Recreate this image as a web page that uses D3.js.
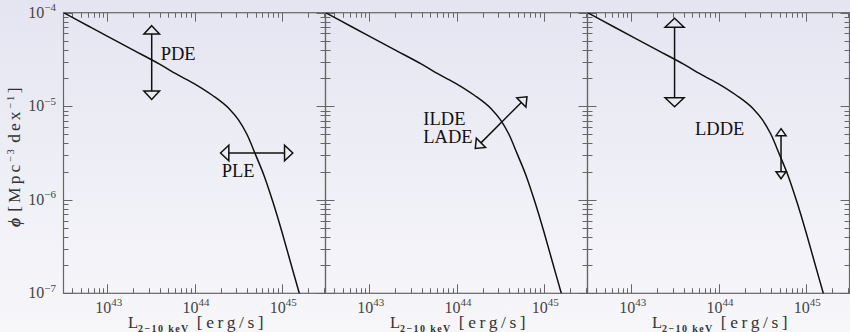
<!DOCTYPE html>
<html><head><meta charset="utf-8">
<script src="https://cdn.jsdelivr.net/npm/d3@7"></script>
<style>body{margin:0;background:#fff}svg{display:block}</style>
</head><body>
<svg id="c" width="850" height="332"></svg>
<script>
// ---------- data ----------
const logL   = [42.5, 42.8, 43.0, 43.3, 43.6, 43.8, 44.0, 44.2, 44.4, 44.5, 44.6, 44.7, 44.8, 44.9, 45.0, 45.1, 45.2, 45.3];
const logPhi = [-4.00, -4.15, -4.25, -4.40, -4.55, -4.66, -4.76, -4.88, -5.03, -5.14, -5.30, -5.52, -5.75, -6.03, -6.34, -6.67, -7.00, -7.33];
const xDomainLog = [42.5, 45.5];
const yDomainLog = [-7, -4];
const xTickExps = [43, 44, 45];
const yTickExps = [-4, -5, -6, -7];
const panelNames = ["PLE_PDE", "ILDE_LADE", "LDDE"];
// arrows (log L, log phi end points)
const arrowPanel = [0, 0, 1, 2, 2];
const arrowX1 = [43.51, 44.298, 44.215, 43.497, 44.716];
const arrowY1 = [-4.139, -5.50, -5.452, -4.06, -5.24];
const arrowX2 = [43.51, 45.126, 44.807, 43.497, 44.716];
const arrowY2 = [-4.927, -5.50, -4.899, -5.006, -5.775];
const arrowKind = ["big", "big", "mid", "huge", "small"];
// labels (log L, log phi of baseline-left)
const labelPanel = [0, 0, 1, 1, 2];
const labelX = [43.613, 44.311, 43.62, 43.62, 43.731];
const labelY = [-4.506, -5.753, -5.201, -5.396, -5.308];
const labelText = ["PDE", "PLE", "ILDE", "LADE", "LDDE"];

// ---------- layout ----------
const W = 850, H = 332;
const yTop = 12.7, yBot = 293.3, pw = 262;
const lefts = [63.5, 325.5, 587.5];
const svg = d3.select("#c");
const defs = svg.append("defs");
const gr = defs.append("linearGradient").attr("id", "bg").attr("x1", 0).attr("y1", 0).attr("x2", 0).attr("y2", 1);
gr.append("stop").attr("offset", "0%").attr("stop-color", "#e5e5f2");
gr.append("stop").attr("offset", "100%").attr("stop-color", "#f7f7fa");
svg.append("rect").attr("width", W).attr("height", H).attr("fill", "url(#bg)");

const y = d3.scaleLog().domain(yDomainLog.map(v => Math.pow(10, v))).range([yBot, yTop]);
const serif = "'Liberation Serif','Times New Roman',Times,serif";
const axisColor = "#666";

function head(g, tx, ty, dx, dy, len, hw) {
  const n = Math.hypot(dx, dy); dx /= n; dy /= n;
  const bx = tx - dx * len, by = ty - dy * len;
  const px = -dy, py = dx;
  g.append("polygon")
    .attr("points", [[tx, ty], [bx + px * hw, by + py * hw], [bx - px * hw, by - py * hw]].map(p => p.join(",")).join(" "))
    .attr("fill", "none").attr("stroke", "#111").attr("stroke-width", 1.5).attr("stroke-linejoin", "miter");
  return [bx, by];
}
const headSize = {huge: [9, 9.5], big: [8.3, 7.8], mid: [8, 6.5], small: [7, 5]};

lefts.forEach((left, pi) => {
  const x = d3.scaleLog().domain(xDomainLog.map(v => Math.pow(10, v))).range([left, left + pw]);
  const g = svg.append("g");
  const cid = "clip" + pi;
  defs.append("clipPath").attr("id", cid).append("rect")
    .attr("x", left).attr("y", yTop).attr("width", pw).attr("height", yBot - yTop);

  const xt = x.ticks(30);
  const yt = y.ticks(30);
  const isMajor = v => Math.abs(Math.log10(v) - Math.round(Math.log10(v))) < 1e-6;
  const tk = g.append("g").attr("stroke", axisColor).attr("stroke-width", 1);
  xt.forEach(v => {
    const L = isMajor(v) ? 9 : 5, xx = Math.round(x(v)) + 0.5;
    tk.append("line").attr("x1", xx).attr("x2", xx).attr("y1", yBot).attr("y2", yBot - L);
    tk.append("line").attr("x1", xx).attr("x2", xx).attr("y1", yTop).attr("y2", yTop + L);
  });
  yt.forEach(v => {
    const L = isMajor(v) ? 9 : 5, yy = Math.round(y(v)) + 0.5;
    tk.append("line").attr("y1", yy).attr("y2", yy).attr("x1", left).attr("x2", left + L);
    tk.append("line").attr("y1", yy).attr("y2", yy).attr("x1", left + pw).attr("x2", left + pw - L);
  });
  g.append("rect").attr("x", left).attr("y", yTop).attr("width", pw).attr("height", yBot - yTop)
    .attr("fill", "none").attr("stroke", axisColor).attr("stroke-width", 1.2);

  xTickExps.forEach(e => {
    const t = g.append("text").attr("x", x(Math.pow(10, e)) + 1.5).attr("y", 312.5)
      .attr("text-anchor", "middle").attr("font-family", serif).attr("font-size", 16).attr("fill", "#444");
    t.append("tspan").text("10");
    t.append("tspan").attr("dy", -6.5).attr("font-size", 11).text(String(e));
  });
  // x axis label: L_{2-10 keV} [erg/s]
  const xl = g.append("text").attr("x", left + 64.5).attr("y", 327.5)
    .attr("font-family", serif).attr("font-size", 16.5).attr("fill", "#333");
  xl.append("tspan").text("L");
  xl.append("tspan").attr("dy", 4).attr("font-size", 10).attr("font-weight", "bold")
    .attr("letter-spacing", 1.4).text("2−10 keV");
  xl.append("tspan").attr("dy", -4).attr("dx", 7).attr("font-size", 17.5).attr("letter-spacing", 3.6).text("[erg/s]");

  const pts = logL.map((l, i) => [Math.pow(10, l), Math.pow(10, logPhi[i])]);
  g.append("path").datum(pts).attr("clip-path", `url(#${cid})`)
    .attr("d", d3.line().x(d => x(d[0])).y(d => y(d[1])).curve(d3.curveMonotoneX))
    .attr("fill", "none").attr("stroke", "#111").attr("stroke-width", 1.5);

  arrowPanel.forEach((p, i) => {
    if (p !== pi) return;
    const x1 = x(Math.pow(10, arrowX1[i])), y1 = y(Math.pow(10, arrowY1[i]));
    const x2 = x(Math.pow(10, arrowX2[i])), y2 = y(Math.pow(10, arrowY2[i]));
    const [len, hw] = headSize[arrowKind[i]];
    const b1 = head(g, x1, y1, x1 - x2, y1 - y2, len, hw);
    const b2 = head(g, x2, y2, x2 - x1, y2 - y1, len, hw);
    g.append("line").attr("x1", b1[0]).attr("y1", b1[1]).attr("x2", b2[0]).attr("y2", b2[1])
      .attr("stroke", "#111").attr("stroke-width", 1.5);
  });
  labelPanel.forEach((p, i) => {
    if (p !== pi) return;
    g.append("text").attr("x", x(Math.pow(10, labelX[i]))).attr("y", y(Math.pow(10, labelY[i])))
      .attr("font-family", serif).attr("font-size", 18.5).attr("fill", "#111").text(labelText[i]);
  });
});

yTickExps.forEach(e => {
  const t = svg.append("text").attr("x", 56).attr("y", y(Math.pow(10, e)) + 5)
    .attr("text-anchor", "end").attr("font-family", serif).attr("font-size", 16).attr("fill", "#444");
  t.append("tspan").text("10");
  t.append("tspan").attr("dy", -6.5).attr("font-size", 11).text("−" + Math.abs(e));
});
// y axis label: phi [Mpc^-3 dex^-1]
const yl = svg.append("text").attr("transform", "translate(20,227) rotate(-90)")
  .attr("font-family", serif).attr("font-size", 16).attr("fill", "#333");
yl.append("tspan").attr("font-style", "italic").attr("font-weight", "bold").text("ϕ");
yl.append("tspan").attr("dx", 6).attr("font-size", 17.5).attr("letter-spacing", 3).text("[Mpc");
yl.append("tspan").attr("dy", -6).attr("font-size", 10.5).attr("letter-spacing", 1.5).text("−3");
yl.append("tspan").attr("dy", 6).attr("dx", 5).attr("font-size", 17.5).attr("letter-spacing", 3).text("dex");
yl.append("tspan").attr("dy", -6).attr("font-size", 10.5).attr("letter-spacing", 1.5).text("−1");
yl.append("tspan").attr("dy", 6).attr("dx", 1).attr("font-size", 17.5).text("]");
</script>
</body></html>
